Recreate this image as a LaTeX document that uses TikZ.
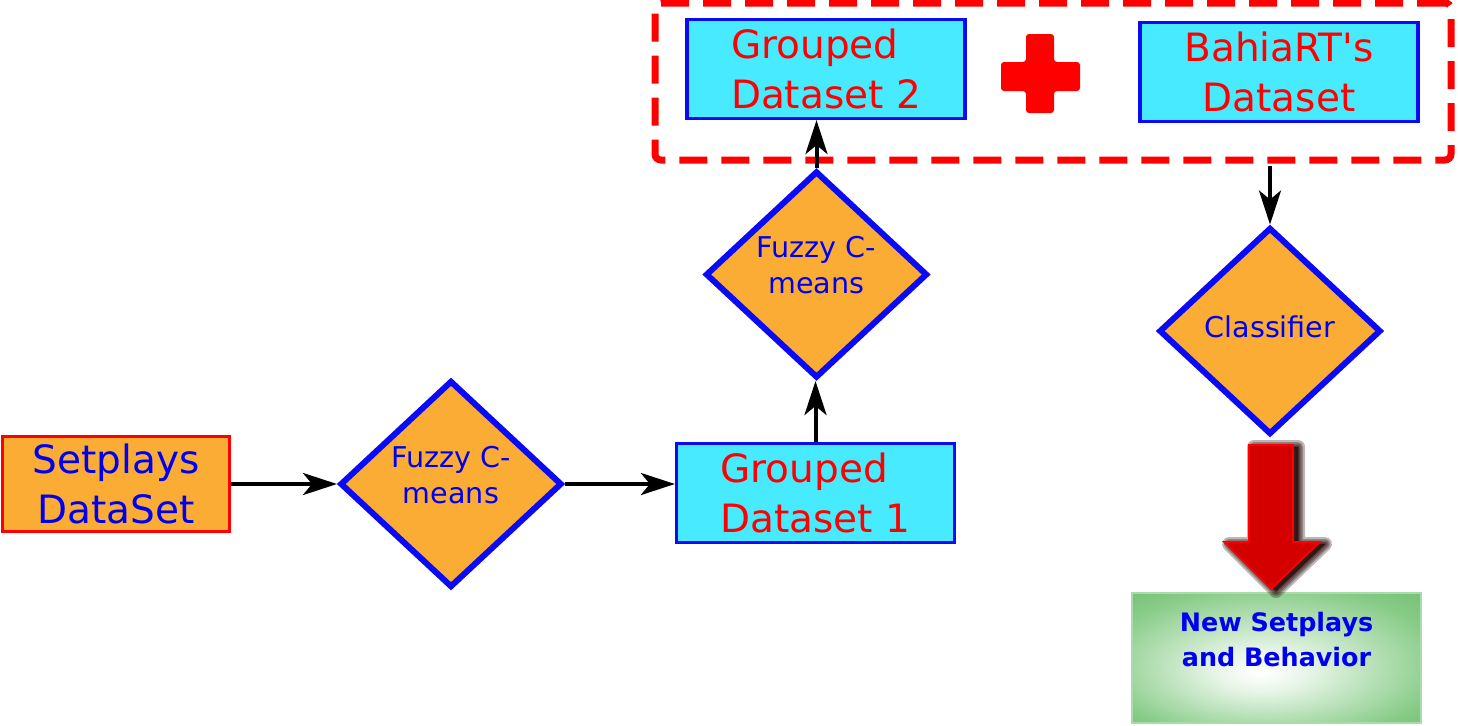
\documentclass[tikz,border=0pt]{standalone}
\usepackage{fontspec}
\setmainfont{DejaVu Sans}[Ligatures=TeXOff]
\usetikzlibrary{shapes.geometric,arrows.meta}
\definecolor{orfill}{HTML}{FBAC34}
\definecolor{cyfill}{HTML}{48EAFF}
\definecolor{bdblue}{HTML}{0A0AF5}
\definecolor{txblue}{HTML}{0000F0}
\definecolor{txred}{HTML}{FF0000}
\definecolor{arrred}{HTML}{D40000}
\definecolor{grA}{HTML}{86CB86}
\definecolor{grB}{HTML}{58B358}
\definecolor{shadowc}{HTML}{2A0C0C}
\pgfdeclareradialshading{greenglow}{\pgfpoint{-3bp}{-6bp}}{color(0bp)=(white); color(8bp)=(white!80!grA); color(30bp)=(grA); color(50bp)=(grB)}
\begin{document}
\begin{tikzpicture}[x=0.5pt,y=-0.5pt,
  bigtext/.style={font=\fontsize{19.5pt}{25pt}\selectfont},
  srcbox/.style={draw=red, line width=1.5pt, fill=orfill, minimum width=113.5pt, minimum height=47.5pt, inner sep=0pt, text=txblue, align=center, bigtext},
  databox/.style={draw=bdblue, line width=1.6pt, fill=cyfill, minimum width=139pt, minimum height=49.5pt, inner sep=0pt, text=txred, bigtext},
  decision/.style={diamond, draw=bdblue, line width=3pt, fill=orfill, inner sep=0pt, minimum width=111pt, minimum height=103.5pt},
  dtext/.style={font=\fontsize{14.3pt}{18pt}\selectfont, text=txblue, align=center, inner sep=0pt},
  flow/.style={-{Stealth[length=17pt,width=11pt,inset=4.5pt]}, line width=2pt, black},
  groupframe/.style={draw=red, line width=3.5pt, dash pattern=on 14pt off 7pt, rounded corners=3pt, minimum width=398pt, minimum height=78.5pt, inner sep=0pt},
  resultbox/.style={shading=greenglow, draw=grA!70!white, line width=0.6pt, minimum width=144.5pt, minimum height=65pt, inner sep=0pt},
  resulttext/.style={font=\bfseries\fontsize{12.7pt}{17.5pt}\selectfont, text=txblue, align=center, inner sep=0pt},
  shadowlayer/.style={fill=shadowc, draw=shadowc, line join=round, opacity=0.3}
]
\useasboundingbox (0,0) rectangle (1458,725);

% dashed group frame
\node[groupframe] (grp) at (1053,81.5) {};

% nodes
\node[srcbox] (sp) at (116,484) {Setplays\\DataSet};
\node[decision] (d1) at (451,484) {};
\node[dtext] (d1t) at ([yshift=4.5pt]d1.center) {Fuzzy C-\\means};
\node[databox, align=left] (g1) at (815.5,493) {Grouped\\Dataset 1};
\node[decision] (d2) at (816.5,274.5) {};
\node[dtext] (d2t) at ([yshift=4.75pt]d2.center) {Fuzzy C-\\means};
\node[databox, align=left] (g2) at (826,69) {Grouped\\Dataset 2};
\node[databox, align=center] (br) at (1279,72) {BahiaRT's\\Dataset};
\node[decision] (cl) at (1270,331) {};
\node[dtext] (clt) at ([yshift=2.25pt]cl.center) {Classifier};
\node[resultbox] (out) at (1276.5,658) {};
\node[resulttext] (outt) at ([yshift=9pt]out.center) {New Setplays\\and Behavior};

% plus sign
\fill[red, rounded corners=1.5pt] (1026,34) -- (1054,34) -- (1054,62) -- (1080,62) -- (1080,91) -- (1054,91) -- (1054,113) -- (1026,113) -- (1026,91) -- (1001,91) -- (1001,62) -- (1026,62) -- cycle;

% connectors
\draw[flow] (sp.east) -- (d1.west);
\draw[flow] (d1.east) -- (d1.east -| g1.west);
\draw[flow] (g1.north) -- (g1.north |- d2.south);
\draw[flow] (d2.north) -- (d2.north |- g2.south);
\draw[flow] ([yshift=-1pt]grp.south -| cl.north) -- (cl.north);

% big red arrow with soft dark shadow
\foreach \w in {7,5,3.5,2,0.8}{
  \path[shadowlayer, line width=\w pt, shift={(5,2)}]
    (1249,445) -- (1293,445) -- (1293,542) -- (1320,542) -- (1271,589) -- (1224,542) -- (1249,542) -- cycle;
}
\filldraw[fill=arrred, draw=red, line width=0.8pt]
  (1249,445) -- (1293,445) -- (1293,542) -- (1320,542) -- (1271,589) -- (1224,542) -- (1249,542) -- cycle;
\end{tikzpicture}
\end{document}
